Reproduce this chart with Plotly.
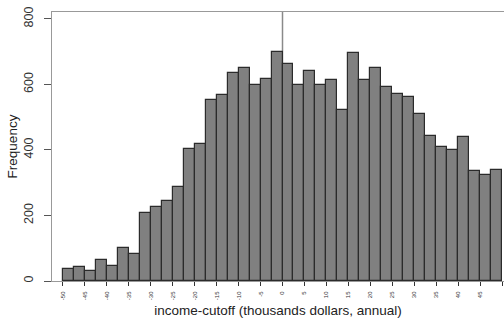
import numpy as np
import plotly.graph_objects as go

# Histogram of income cutoffs: 40 bins of width 2.5 (thousands of dollars)
bin_start = -50.0
bin_width = 2.5
counts = [37, 44, 30, 65, 47, 100, 83, 209, 225, 245,
          286, 403, 419, 552, 568, 635, 649, 598, 617, 698,
          662, 598, 642, 598, 615, 522, 697, 614, 651, 592,
          571, 562, 511, 444, 410, 400, 438, 336, 324, 338]
x_ticks = list(range(-50, 55, 5))
y_ticks = [0, 200, 400, 600, 800]

centers = bin_start + bin_width * (np.arange(len(counts)) + 0.5)

fig = go.Figure()
fig.add_trace(go.Bar(
    x=centers, y=counts, width=bin_width,
    marker=dict(color="#808080", line=dict(color="#2b2b2b", width=1.2)),
    showlegend=False, hoverinfo="x+y",
))

# reference line at zero cutoff
fig.add_shape(type="line", xref="x", yref="paper", x0=0, x1=0, y0=0, y1=1,
              line=dict(color="#8a8a8a", width=1.5), layer="below")

fig.update_layout(
    width=504, height=322,
    margin=dict(l=52, r=0, t=12, b=41),
    paper_bgcolor="white", plot_bgcolor="white",
    font=dict(family="Liberation Sans, Arial, sans-serif", color="#222"),
    bargap=0,
    xaxis=dict(
        range=[-52.5, 50.45], tickvals=x_ticks, ticktext=[str(v) for v in x_ticks],
        tickangle=-90, tickfont=dict(size=6, color="#333"),
        ticks="outside", ticklen=4, tickcolor="#333", ticklabelstandoff=3,
        showline=True, mirror=True, linecolor="#999", linewidth=1.2,
        showgrid=False, zeroline=False,
        title=dict(text="income-cutoff (thousands dollars, annual)",
                   font=dict(size=13.5, color="#222"), standoff=6),
    ),
    yaxis=dict(
        range=[0, 821], tickvals=y_ticks, ticktext=[str(v) for v in y_ticks],
        tickangle=-90, tickfont=dict(size=12.5, color="#333"),
        ticks="outside", ticklen=7, tickcolor="#555", ticklabelstandoff=6,
        showline=True, mirror=False, linecolor="#999", linewidth=1.2,
        showgrid=False, zeroline=False,
        title=dict(text="Frequency", font=dict(size=13.5, color="#222"), standoff=1),
    ),
)

fig.write_html("out.html")
